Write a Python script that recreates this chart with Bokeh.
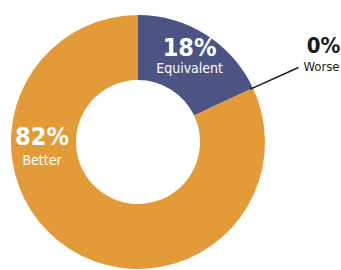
import math
from bokeh.plotting import figure
from bokeh.models import Range1d, ColumnDataSource
from bokeh.core.properties import value
from bokeh.embed import file_html
from bokeh.resources import INLINE

# data (clockwise from 12 o'clock)
categories = ["Equivalent", "Worse", "Better"]
values = [18, 0, 82]
labels = ["18%", "0%", "82%"]
colors = ["#4B5483", "#E39B3A", "#E39B3A"]

W, H = 341, 270
p = figure(width=W, height=H, output_backend="svg", toolbar_location=None,
           x_range=Range1d(0, W), y_range=Range1d(0, H),
           min_border=0)
p.axis.visible = False
p.grid.visible = False
p.outline_line_color = None
p.background_fill_color = "white"

cx, cy = 137.5, 128.5
r_in, r_out = 62, 127

total = sum(values)
starts, ends = [], []
acc = 0.0
for v in values:
    a0 = math.radians(90 - 360 * acc / total)
    acc += v
    a1 = math.radians(90 - 360 * acc / total)
    starts.append(a1)
    ends.append(a0)

keep = [i for i, v in enumerate(values) if v > 0]
src = ColumnDataSource(dict(start=[starts[i] for i in keep],
                            end=[ends[i] for i in keep],
                            color=[colors[i] for i in keep]))
p.annular_wedge(x=cx, y=cy, inner_radius=r_in, outer_radius=r_out,
                start_angle="start", end_angle="end", color="color",
                line_color=None, source=src)

font = value("DejaVu Sans Condensed")

# Equivalent label near mid angle
mid_eq = (starts[0] + ends[0]) / 2
lx = cx + 100 * math.cos(mid_eq) - 2
ly = cy + 100 * math.sin(mid_eq)
p.text(x=[lx], y=[ly + 10], text=[labels[0]], text_font=font, text_font_style="bold",
       text_font_size="25px", text_color="white", text_align="center", text_baseline="middle")
p.text(x=[lx], y=[ly - 10], text=[categories[0]], text_font=font,
       text_font_size="14px", text_color="white", text_align="center", text_baseline="middle")

# Better label at left of ring
bx = cx - 96
p.text(x=[bx], y=[cy + 6], text=[labels[2]], text_font=font, text_font_style="bold",
       text_font_size="25px", text_color="white", text_align="center", text_baseline="middle")
p.text(x=[bx], y=[cy - 18], text=[categories[2]], text_font=font,
       text_font_size="14px", text_color="white", text_align="center", text_baseline="middle")

# Worse leader line and label
wa = starts[1]
x0 = cx + r_out * math.cos(wa)
y0 = cy + r_out * math.sin(wa)
x1, y1 = 298, 203
p.line(x=[x0 - 3, x1], y=[y0 - 1.5, y1], line_color="#1a1a1a", line_width=1.5)
p.text(x=[323], y=[225], text=[labels[1]], text_font=font, text_font_style="bold",
       text_font_size="22px", text_color="#1a1a1a", text_align="center", text_baseline="middle")
p.text(x=[303], y=[204], text=[categories[1]], text_font=font,
       text_font_size="13px", text_color="#1a1a1a", text_align="left", text_baseline="middle")

open("out.html", "w").write(file_html(p, INLINE))
